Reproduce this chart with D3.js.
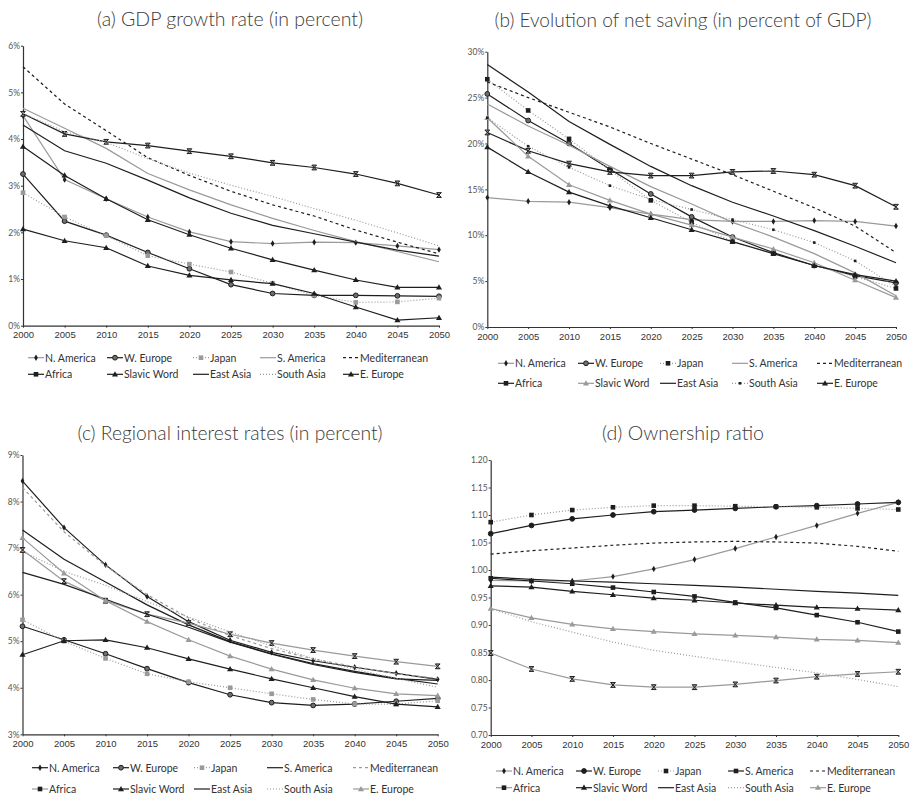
<!DOCTYPE html>
<html>
<head>
<meta charset="utf-8">
<script src="https://cdn.jsdelivr.net/npm/d3@7"></script>
<style>
  html, body { margin: 0; padding: 0; background: #fff; }
  svg { display: block; font-family: Lato, "Open Sans", "DejaVu Sans", sans-serif; }
</style>
</head>
<body>
<svg id="chart" width="911" height="796"></svg>
<script>
// Horizon of the projections
const years = [2000, 2005, 2010, 2015, 2020, 2025, 2030, 2035, 2040, 2045, 2050];

const regions = ["N. America", "W. Europe", "Japan", "S. America", "Mediterranean",
                 "Africa", "Slavic Word", "East Asia", "South Asia", "E. Europe"];

// (a) GDP growth rate, percent — one row per region, in the order above
const gdpGrowth = [
  [4.50, 3.13, 2.72, 2.33, 2.01, 1.80, 1.76, 1.79, 1.78, 1.71, 1.63],
  [3.25, 2.24, 1.94, 1.57, 1.22, 0.88, 0.69, 0.65, 0.65, 0.64, 0.63],
  [2.85, 2.33, 1.93, 1.50, 1.32, 1.15, 0.91, 0.65, 0.50, 0.51, 0.59],
  [4.66, 4.23, 3.80, 3.26, 2.91, 2.59, 2.30, 2.04, 1.80, 1.59, 1.37],
  [5.55, 4.75, 4.18, 3.60, 3.22, 2.88, 2.59, 2.35, 2.05, 1.79, 1.54],
  [4.54, 4.11, 3.94, 3.86, 3.74, 3.63, 3.49, 3.39, 3.25, 3.05, 2.80],
  [3.84, 3.22, 2.72, 2.27, 1.95, 1.66, 1.41, 1.19, 0.98, 0.82, 0.82],
  [4.30, 3.75, 3.48, 3.12, 2.74, 2.41, 2.15, 1.97, 1.79, 1.62, 1.49],
  [4.55, 4.16, 3.93, 3.58, 3.27, 3.01, 2.77, 2.51, 2.26, 1.99, 1.71],
  [2.07, 1.82, 1.67, 1.28, 1.08, 0.98, 0.90, 0.69, 0.40, 0.12, 0.17]
];

// (b) Net saving, percent of GDP
const netSaving = [
  [14.1, 13.7, 13.6, 13.0, 12.3, 11.7, 11.5, 11.5, 11.6, 11.5, 11.0],
  [25.4, 22.5, 20.0, 17.2, 14.5, 12.0, 9.8, 8.1, 6.7, 5.6, 4.8],
  [27.0, 23.6, 20.5, 17.1, 13.8, 11.4, 9.3, 8.0, 6.7, 5.5, 4.2],
  [24.3, 21.9, 19.8, 17.5, 15.3, 13.4, 11.4, 9.8, 8.0, 5.9, 3.4],
  [26.7, 25.0, 23.4, 21.8, 20.0, 18.3, 16.6, 14.8, 13.0, 11.0, 8.1],
  [21.2, 19.2, 17.8, 16.9, 16.5, 16.5, 16.9, 17.0, 16.6, 15.4, 13.1],
  [22.8, 18.6, 15.5, 13.8, 12.3, 11.1, 9.8, 8.5, 7.0, 5.1, 3.2],
  [28.6, 25.6, 22.4, 19.9, 17.5, 15.4, 13.6, 12.1, 10.5, 8.8, 7.0],
  [22.8, 19.7, 17.4, 15.4, 13.9, 12.8, 11.7, 10.6, 9.2, 7.2, 4.4],
  [19.6, 16.9, 14.7, 13.2, 11.9, 10.6, 9.3, 8.0, 6.7, 5.7, 5.0]
];

// (c) Regional interest rates, percent
const interestRates = [
  [8.44, 7.44, 6.64, 5.96, 5.42, 5.02, 4.76, 4.58, 4.44, 4.31, 4.18],
  [5.32, 5.03, 4.73, 4.41, 4.11, 3.85, 3.68, 3.62, 3.65, 3.71, 3.77],
  [5.46, 5.00, 4.63, 4.30, 4.13, 4.00, 3.87, 3.75, 3.65, 3.65, 3.72],
  [7.39, 6.76, 6.27, 5.78, 5.35, 4.99, 4.73, 4.52, 4.35, 4.20, 4.08],
  [8.30, 7.35, 6.62, 6.00, 5.50, 5.12, 4.84, 4.62, 4.45, 4.30, 4.20],
  [6.96, 6.29, 5.87, 5.58, 5.39, 5.15, 4.96, 4.81, 4.68, 4.56, 4.46],
  [4.71, 5.01, 5.03, 4.86, 4.62, 4.40, 4.19, 4.00, 3.81, 3.65, 3.59],
  [6.48, 6.22, 5.90, 5.58, 5.30, 4.98, 4.72, 4.50, 4.33, 4.19, 4.16],
  [6.93, 6.50, 6.20, 5.85, 5.52, 5.20, 4.90, 4.63, 4.40, 4.20, 4.01],
  [7.22, 6.46, 5.87, 5.42, 5.03, 4.68, 4.40, 4.17, 3.99, 3.87, 3.83]
];

// (d) Ownership ratio
const ownershipRatio = [
  [0.981, 0.980, 0.980, 0.988, 1.002, 1.019, 1.039, 1.060, 1.081, 1.103, 1.123],
  [1.066, 1.081, 1.093, 1.100, 1.106, 1.109, 1.112, 1.115, 1.117, 1.120, 1.123],
  [1.087, 1.100, 1.109, 1.114, 1.117, 1.117, 1.116, 1.115, 1.114, 1.112, 1.110],
  [0.985, 0.980, 0.975, 0.968, 0.960, 0.952, 0.941, 0.931, 0.918, 0.905, 0.888],
  [1.029, 1.035, 1.040, 1.045, 1.049, 1.051, 1.052, 1.051, 1.049, 1.043, 1.034],
  [0.849, 0.820, 0.802, 0.791, 0.787, 0.787, 0.792, 0.799, 0.806, 0.811, 0.815],
  [0.971, 0.969, 0.961, 0.955, 0.949, 0.945, 0.940, 0.936, 0.932, 0.930, 0.927],
  [0.987, 0.983, 0.980, 0.978, 0.975, 0.972, 0.969, 0.965, 0.961, 0.958, 0.954],
  [0.930, 0.906, 0.887, 0.869, 0.854, 0.843, 0.833, 0.823, 0.813, 0.801, 0.788],
  [0.930, 0.913, 0.901, 0.893, 0.888, 0.884, 0.881, 0.878, 0.874, 0.872, 0.868]
];

// ---- styling -------------------------------------------------------------
const BLACK = "#1e1e1e", GRAY = "#9a9a9a", MID = "#6e6e6e";
const DASH = "3,3", DOT = "1,2";

// per-panel series style: [line colour, dash, marker, marker fill, marker stroke]
const styleA = [
  [GRAY, null, "diamond", BLACK, BLACK],
  [BLACK, null, "circle", MID, BLACK],
  [GRAY, DOT, "square", GRAY, GRAY],
  [GRAY, null, null],
  [BLACK, DASH, null],
  [BLACK, null, "xbox", GRAY, BLACK],
  [BLACK, null, "triangle", BLACK, BLACK],
  [BLACK, null, null],
  [GRAY, DOT, null],
  [BLACK, null, "triangle", BLACK, BLACK]
];
const styleB = [
  [GRAY, null, "diamond", BLACK, BLACK],
  [BLACK, null, "circle", MID, BLACK],
  [GRAY, DOT, "square", BLACK, BLACK],
  [GRAY, null, null],
  [BLACK, DASH, null],
  [BLACK, null, "xbox", GRAY, BLACK],
  [GRAY, null, "triangle", GRAY, GRAY],
  [BLACK, null, null],
  [GRAY, DOT, "dot", BLACK, BLACK],
  [BLACK, null, "triangle", BLACK, BLACK]
];
const styleC = [
  [BLACK, null, "diamond", BLACK, BLACK],
  [BLACK, null, "circle", MID, BLACK],
  [GRAY, DOT, "square", GRAY, GRAY],
  [BLACK, null, null],
  [GRAY, DASH, null],
  [GRAY, null, "xbox", GRAY, BLACK],
  [BLACK, null, "triangle", BLACK, BLACK],
  [BLACK, null, null],
  [GRAY, DOT, null],
  [GRAY, null, "triangle", GRAY, GRAY]
];
const styleD = [
  [GRAY, null, "diamond", BLACK, BLACK],
  [BLACK, null, "circle", BLACK, BLACK],
  [GRAY, DOT, "square", BLACK, BLACK],
  [BLACK, null, "square", BLACK, BLACK],
  [BLACK, DASH, null],
  [GRAY, null, "xbox", GRAY, BLACK],
  [BLACK, null, "triangle", BLACK, BLACK],
  [BLACK, null, null],
  [GRAY, DOT, null],
  [GRAY, null, "triangle", GRAY, GRAY]
];

const pct = d => d + "%";

const panels = [
  { title: "(a) GDP growth rate (in percent)", titleX: 230, titleY: 26, titleW: 266,
    values: gdpGrowth, style: styleA,
    x0: 23, x1: 439, y0: 325.7, y1: 45.7, domain: [0, 6], ticks: d3.range(0, 6.01, 1), fmt: pct,
    legX: [28, 107, 193, 260, 343], legY: [357.7, 374.3] },
  { title: "(b) Evolution of net saving (in percent of GDP)", titleX: 683, titleY: 27, titleW: 377,
    values: netSaving, style: styleB,
    x0: 487.3, x1: 896, y0: 327, y1: 51.7, domain: [0, 30], ticks: d3.range(0, 30.1, 5), fmt: pct,
    legX: [498, 578, 660, 732, 817], legY: [363.3, 383.3] },
  { title: "(c) Regional interest rates (in percent)", titleX: 230, titleY: 440, titleW: 305,
    values: interestRates, style: styleC,
    x0: 22.5, x1: 437.7, y0: 734.3, y1: 455, domain: [3, 9], ticks: d3.range(3, 9.01, 1), fmt: pct,
    legX: [32, 113, 194, 267, 353], legY: [767.7, 789] },
  { title: "(d) Ownership ratio", titleX: 683, titleY: 440, titleW: 162,
    values: ownershipRatio, style: styleD,
    x0: 490.7, x1: 898.3, y0: 735, y1: 460, domain: [0.70, 1.20],
    ticks: d3.range(0, 11).map(i => 0.70 + i * 0.05), fmt: d3.format(".2f"),
    legX: [496, 576, 658, 728, 810], legY: [771, 787.7] }
];

const svg = d3.select("#chart");
svg.append("rect").attr("width", 911).attr("height", 796).attr("fill", "#fff");

function drawMarker(g, type, x, y, fill, stroke) {
  if (!type) return;
  if (type === "circle") {
    g.append("circle").attr("cx", x).attr("cy", y).attr("r", 2.4)
      .attr("fill", fill).attr("stroke", stroke).attr("stroke-width", 1);
  } else if (type === "square") {
    g.append("rect").attr("x", x - 2.3).attr("y", y - 2.3).attr("width", 4.6).attr("height", 4.6)
      .attr("fill", fill).attr("stroke", "none");
  } else if (type === "dot") {
    g.append("rect").attr("x", x - 1.3).attr("y", y - 1.3).attr("width", 2.6).attr("height", 2.6)
      .attr("fill", fill);
  } else if (type === "diamond") {
    g.append("path").attr("transform", `translate(${x},${y})`)
      .attr("d", d3.symbol(d3.symbolDiamond, 12)()).attr("fill", fill);
  } else if (type === "triangle") {
    g.append("path").attr("transform", `translate(${x},${y + 0.4})`)
      .attr("d", d3.symbol(d3.symbolTriangle, 16)()).attr("fill", fill);
  } else if (type === "xbox") {
    g.append("path").attr("transform", `translate(${x},${y})`)
      .attr("d", "M-2.4,-2.4H2.4L-2.4,2.4H2.4Z")
      .attr("fill", fill).attr("stroke", stroke).attr("stroke-width", 1);
  }
}

panels.forEach(p => {
  const g = svg.append("g");
  const x = d3.scaleLinear().domain([2000, 2050]).range([p.x0, p.x1]);
  const y = d3.scaleLinear().domain(p.domain).range([p.y0, p.y1]);

  // title
  g.append("text").attr("x", p.titleX).attr("y", p.titleY)
    .attr("text-anchor", "middle").attr("font-size", 19).attr("font-weight", 300)
    .attr("fill", "#3a3a3a")
    .attr("textLength", p.titleW).attr("lengthAdjust", "spacingAndGlyphs")
    .text(p.title);

  // axes
  const yAxis = g.append("g").attr("transform", `translate(${p.x0},0)`)
    .call(d3.axisLeft(y).tickValues(p.ticks).tickFormat(p.fmt).tickSize(2).tickSizeOuter(0).tickPadding(1));
  yAxis.select(".domain").attr("stroke", "#333").attr("stroke-width", 1.2);
  yAxis.selectAll(".tick line").attr("stroke", "#333");
  yAxis.selectAll(".tick text").attr("font-size", 8.5).attr("fill", "#555")
    .attr("font-family", "Lato, 'DejaVu Sans', sans-serif");

  const xAxis = g.append("g").attr("transform", `translate(0,${p.y0})`)
    .call(d3.axisBottom(x).tickValues(years).tickFormat(d3.format("d")).tickSize(2).tickSizeOuter(0).tickPadding(4));
  xAxis.select(".domain").attr("stroke", "#333").attr("stroke-width", 1.2);
  xAxis.selectAll(".tick line").attr("stroke", "#333");
  xAxis.selectAll(".tick text").attr("font-size", 9.5).attr("fill", "#333");

  // series
  const line = d3.line().x((d, i) => x(years[i])).y(d => y(d));
  p.values.forEach((vals, k) => {
    const st = p.style[k];
    const sg = g.append("g");
    sg.append("path").datum(vals).attr("d", line)
      .attr("fill", "none").attr("stroke", st[0]).attr("stroke-width", 1.2)
      .attr("stroke-dasharray", st[1]);
    if (st[2]) vals.forEach((v, i) => drawMarker(sg, st[2], x(years[i]), y(v), st[3], st[4]));
  });

  // legend: two rows of five entries (the Africa key uses a plain square)
  regions.forEach((name, k) => {
    const st = p.style[k];
    const lx = p.legX[k % 5], ly = p.legY[Math.floor(k / 5)];
    const lg = g.append("g");
    lg.append("line").attr("x1", lx).attr("x2", lx + 16).attr("y1", ly).attr("y2", ly)
      .attr("stroke", st[0]).attr("stroke-width", 1.2).attr("stroke-dasharray", st[1]);
    const mk = st[2] === "xbox" ? "square" : st[2];
    const mf = st[2] === "xbox" ? BLACK : st[3];
    drawMarker(lg, mk, lx + 8, ly, mf, st[4]);
    lg.append("text").attr("x", lx + 17).attr("y", ly + 3.8)
      .attr("font-size", 10.5).attr("fill", "#333").text(name);
  });
});
</script>
</body>
</html>
